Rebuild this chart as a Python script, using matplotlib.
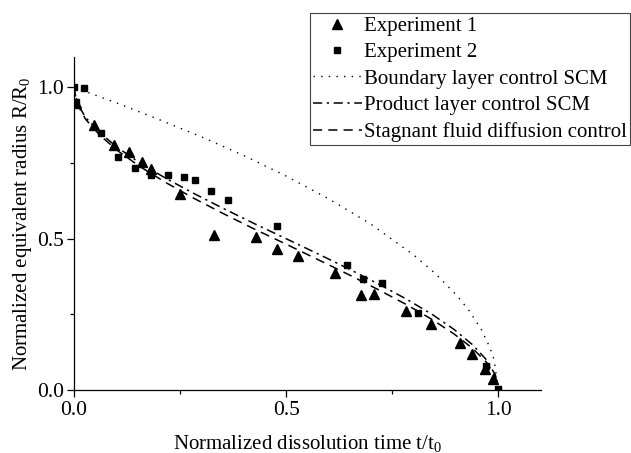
import matplotlib
matplotlib.use("Agg")
import matplotlib.pyplot as plt

plt.rcParams['font.family'] = ['Liberation Serif', 'DejaVu Serif']
plt.rcParams['mathtext.fontset'] = 'custom'
plt.rcParams['mathtext.rm'] = 'Liberation Serif'
plt.rcParams['mathtext.it'] = 'Liberation Serif:italic'

# Experiment 1 (triangles)
exp1_t = [0.006, 0.047, 0.094, 0.130, 0.160, 0.181, 0.250, 0.331, 0.428, 0.479,
          0.528, 0.615, 0.676, 0.708, 0.783, 0.842, 0.910, 0.939, 0.969, 0.988]
exp1_r = [0.949, 0.876, 0.809, 0.788, 0.754, 0.729, 0.649, 0.512, 0.504, 0.465,
          0.442, 0.385, 0.314, 0.318, 0.261, 0.218, 0.154, 0.118, 0.069, 0.035]

# Experiment 2 (squares)
exp2_t = [0.0, 0.023, 0.006, 0.065, 0.103, 0.143, 0.181, 0.221, 0.259, 0.286,
          0.324, 0.363, 0.479, 0.643, 0.681, 0.726, 0.810, 0.972, 1.0]
exp2_r = [1.0, 0.999, 0.950, 0.850, 0.770, 0.735, 0.711, 0.712, 0.705, 0.694,
          0.659, 0.629, 0.541, 0.414, 0.367, 0.355, 0.253, 0.078, 0.003]

# Boundary layer control SCM (dotted)
bl_t = [0.0, 0.1, 0.2, 0.3, 0.4, 0.5, 0.6, 0.7, 0.8, 0.85, 0.9, 0.93, 0.96, 0.98, 0.99, 1.0]
bl_r = [1.0, 0.949, 0.894, 0.837, 0.775, 0.707, 0.632, 0.548, 0.447, 0.387, 0.316,
        0.265, 0.200, 0.141, 0.100, 0.0]

# Product layer control SCM (dash-dot)
pl_t = [0.0, 0.007, 0.028, 0.061, 0.104, 0.156, 0.216, 0.282, 0.352, 0.425, 0.500,
        0.575, 0.648, 0.718, 0.784, 0.844, 0.896, 0.939, 0.972, 0.993, 1.0]
pl_r = [1.0, 0.95, 0.90, 0.85, 0.80, 0.75, 0.70, 0.65, 0.60, 0.55, 0.50,
        0.45, 0.40, 0.35, 0.30, 0.25, 0.20, 0.15, 0.10, 0.05, 0.0]

# Stagnant fluid diffusion control (dashed)
sf_t = pl_t
sf_r = [1.0, 0.947, 0.894, 0.842, 0.790, 0.738, 0.686, 0.634, 0.583, 0.532, 0.482,
        0.431, 0.381, 0.331, 0.282, 0.233, 0.185, 0.138, 0.092, 0.046, 0.0]

labels = ["Experiment 1", "Experiment 2", "Boundary layer control SCM",
          "Product layer control SCM", "Stagnant fluid diffusion control"]

FS = 15

fig = plt.figure(figsize=(6.31, 4.53), dpi=100)
ax = fig.add_axes([0.117, 0.139, 0.740, 0.735])

ax.plot(exp1_t, exp1_r, linestyle='none', marker='^', markersize=6.5, color='black', label=labels[0])
ax.plot(exp2_t, exp2_r, linestyle='none', marker='s', markersize=5, color='black', label=labels[1])
ax.plot(bl_t, bl_r, color='black', lw=1.0, linestyle=(0, (1, 4.5)), label=labels[2])
ax.plot(pl_t, pl_r, color='black', lw=1.1, linestyle=(0, (6, 3, 1.5, 3)), label=labels[3])
ax.plot(sf_t, sf_r, color='black', lw=1.1, linestyle=(0, (6, 4)), label=labels[4])

ax.set_xlim(0, 1.1)
ax.set_ylim(0, 1.1)
ax.set_xticks([0.0, 0.5, 1.0])
ax.set_xticks([0.25, 0.75], minor=True)
ax.set_yticks([0.0, 0.5, 1.0])
ax.set_yticks([0.25, 0.75], minor=True)
ax.set_xticklabels(["0.0", "0.5", "1.0"])
ax.set_yticklabels(["0.0", "0.5", "1.0"])
for s in ['top', 'right']:
    ax.spines[s].set_visible(False)
for s in ['left', 'bottom']:
    ax.spines[s].set_linewidth(0.9)
ax.tick_params(axis='x', which='major', direction='out', length=5, width=0.9, labelsize=15.5, pad=3)
ax.tick_params(axis='y', which='major', direction='out', length=5, width=0.9, labelsize=15.5, pad=2)
ax.tick_params(which='minor', direction='out', length=3, width=0.9)

ax.set_xlabel("Normalized dissolution time t/t$_0$", fontsize=FS, labelpad=9)
ax.set_ylabel("Normalized equivalent radius R/R$_0$", fontsize=FS, labelpad=2)

leg = fig.legend(loc='upper right', bbox_to_anchor=(0.998, 0.971), fontsize=FS,
                 frameon=True, fancybox=False, edgecolor='#444444', framealpha=1,
                 handlelength=2.35, handletextpad=0.1, labelspacing=0.33,
                 borderpad=0.15, borderaxespad=0.0)
leg.get_frame().set_linewidth(0.8)

fig.savefig("out.png", dpi=100)
